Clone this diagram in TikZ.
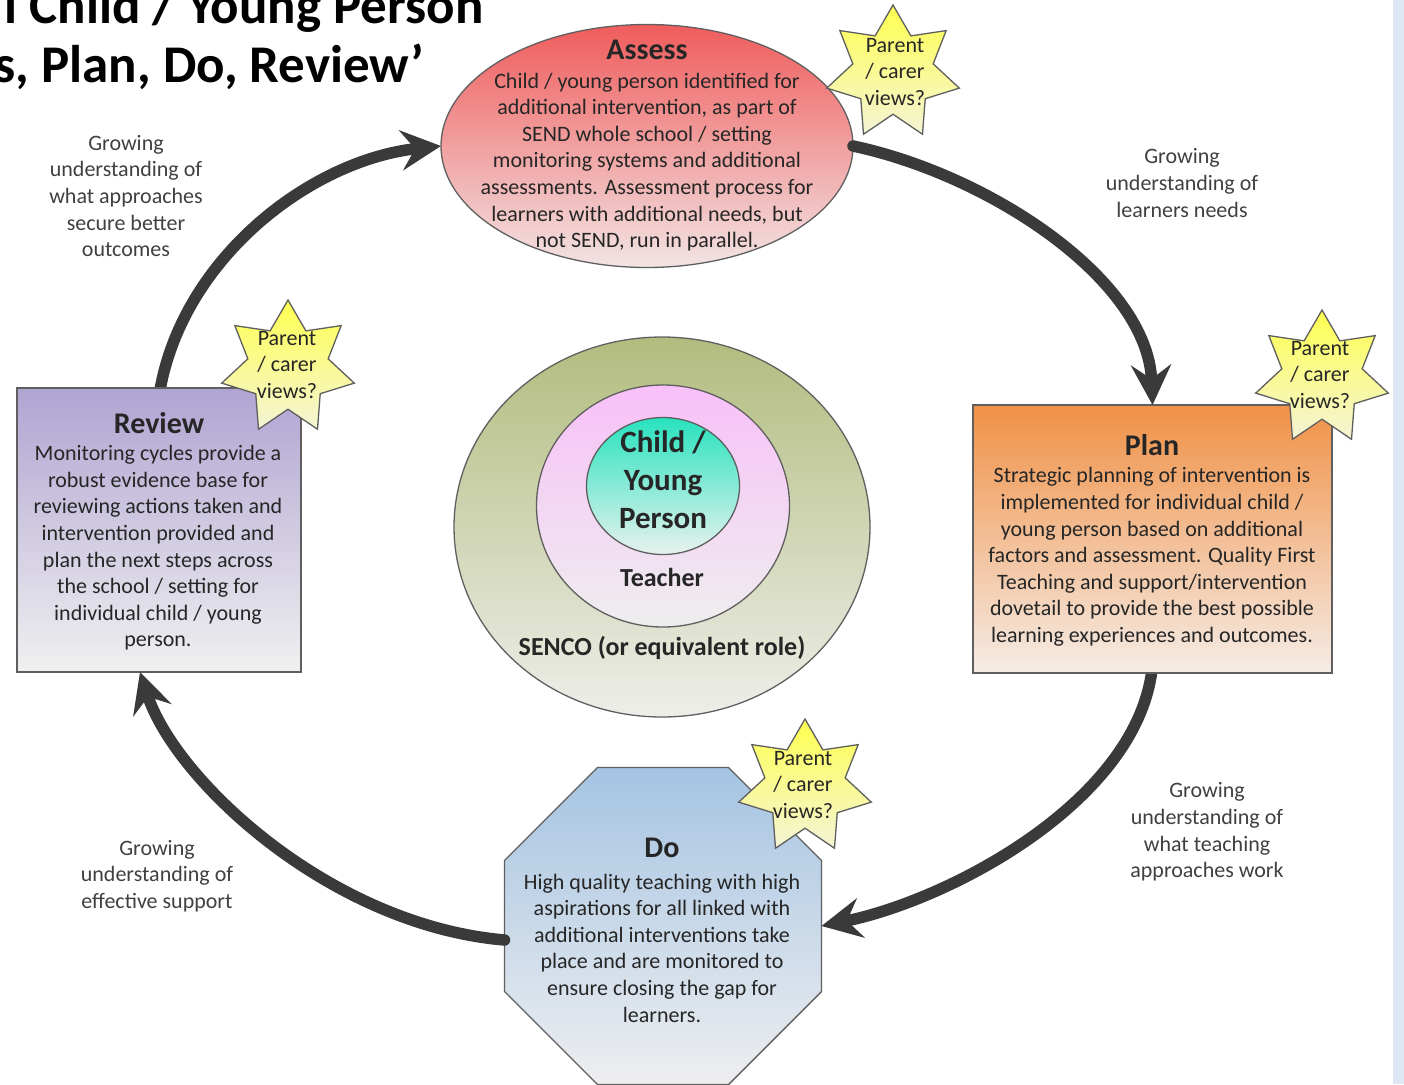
\documentclass[tikz,border=0pt]{standalone}
\usepackage{fontspec}
\setmainfont{Carlito}
\usetikzlibrary{shapes.geometric,arrows.meta,backgrounds}

\definecolor{edgegrey}{RGB}{95,95,95}
\definecolor{arrowgrey}{RGB}{58,58,58}
\definecolor{bodytext}{RGB}{38,38,38}
\definecolor{labeltext}{RGB}{64,64,64}
\definecolor{stripblue}{RGB}{221,232,244}
\definecolor{assessTop}{RGB}{240,92,92}
\definecolor{assessBottom}{RGB}{242,228,228}
\definecolor{planTop}{RGB}{240,145,70}
\definecolor{planBottom}{RGB}{245,236,230}
\definecolor{reviewTop}{RGB}{176,164,210}
\definecolor{reviewBottom}{RGB}{240,240,240}
\definecolor{doTop}{RGB}{165,196,226}
\definecolor{doBottom}{RGB}{238,238,240}
\definecolor{sencoTop}{RGB}{178,188,126}
\definecolor{sencoBottom}{RGB}{238,238,234}
\definecolor{teacherTop}{RGB}{248,192,248}
\definecolor{teacherBottom}{RGB}{238,238,238}
\definecolor{childTop}{RGB}{40,226,190}
\definecolor{childBottom}{RGB}{232,242,238}
\definecolor{starTop}{RGB}{255,255,80}
\definecolor{starBottom}{RGB}{244,244,214}

\tikzset{
  shapeedge/.style={draw=edgegrey, line width=1.3pt, inner sep=0pt, outer sep=0pt},
  parentstar/.style={shapeedge, star, star points=7, star point ratio=1.65,
    minimum size=136pt, top color=starTop, bottom color=starBottom},
  boxtitle/.style={font=\bfseries\fontsize{30}{36}\selectfont, text=bodytext},
  boxbody/.style={align=center, text=bodytext, font=\fontsize{22}{26.6}\selectfont},
  growlabel/.style={align=center, text=labeltext, font=\fontsize{22}{26.6}\selectfont},
  cyclearrow/.style={draw=arrowgrey, line width=11.5pt, line cap=round,
    -{Stealth[length=40pt,width=40pt,inset=14pt]}},
}

\begin{document}
\begin{tikzpicture}[x=1pt,y=-1pt]
\useasboundingbox (0,0) rectangle (1404,1084);
\clip (0,0) rectangle (1404,1084);
\fill[stripblue] (1393,0) rectangle (1404,1084);

% title, cut at the page edge
\node[anchor=base east, font=\bfseries\fontsize{53}{59}\selectfont] (titleA) at (487,23) {l Child / Young Person};
\node[anchor=base east, font=\bfseries\fontsize{53}{59}\selectfont] (titleB) at (428,82) {s, Plan, Do, Review'};

% centre rings
\node[shapeedge, ellipse, minimum width=416pt, minimum height=380pt, top color=sencoTop, bottom color=sencoBottom] (senco) at (662,527) {};
\node[shapeedge, ellipse, minimum width=253pt, minimum height=242pt, top color=teacherTop, bottom color=teacherBottom] (teacher) at (663,506) {};
\node[shapeedge, ellipse, minimum width=153pt, minimum height=137pt, top color=childTop, bottom color=childBottom] (child) at (663,486) {};

% the four stages
\node[shapeedge, ellipse, minimum width=412pt, minimum height=243pt, top color=assessTop, bottom color=assessBottom] (assess) at (647,146) {};
\node[shapeedge, rectangle, minimum width=359pt, minimum height=268pt, top color=planTop, bottom color=planBottom] (plan) at (1152.5,539) {};
\node[shapeedge, regular polygon, regular polygon sides=8, minimum size=343pt, top color=doTop, bottom color=doBottom] (do) at (663,926) {};
\node[shapeedge, rectangle, minimum width=284pt, minimum height=284pt, top color=reviewTop, bottom color=reviewBottom] (review) at (159,530) {};

% cycle
\begin{scope}[on background layer]
\draw[cyclearrow] ([yshift=8pt]plan.south) .. controls (1140,800) and (950,900) .. (do.east);
\draw[cyclearrow] ([yshift=-8pt]review.north) .. controls (180,260) and (310,160) .. (assess.west);
\end{scope}
\draw[cyclearrow] (assess.east) .. controls (990,175) and (1148,280) .. (plan.north);
\draw[cyclearrow] ([yshift=-14pt]do.west) .. controls (330,925) and (175,780) .. ([xshift=-19pt]review.south);

% parent / carer stars
\node[parentstar] (starA) at (893,73) {};
\node[parentstar] (starP) at (1322,378) {};
\node[parentstar] (starD) at (805,787) {};
\node[parentstar] (starR) at (288,368) {};
\node[boxbody] (starAtext) at (895,72) {Parent\\/ carer\\views?};
\node[boxbody] (starPtext) at (1320,375) {Parent\\/ carer\\views?};
\node[boxbody] (starDtext) at (803,785) {Parent\\/ carer\\views?};
\node[boxbody] (starRtext) at (287,365) {Parent\\/ carer\\views?};

% texts
\node[boxtitle] (assessTitle) at (647,50) {Assess};
\node[boxbody] (assessText) at (647,162) {Child / young person identified for\\additional intervention, as part of\\SEND whole school / setting\\monitoring systems and additional\\assessments. Assessment process for\\learners with additional needs, but\\not SEND, run in parallel.};
\node[boxtitle] (planTitle) at (1152,445) {Plan};
\node[boxbody] (planText) at (1152,557) {Strategic planning of intervention is\\implemented for individual child /\\young person based on additional\\factors and assessment. Quality First\\Teaching and support/intervention\\dovetail to provide the best possible\\learning experiences and outcomes.};
\node[boxtitle] (doTitle) at (662,848) {Do};
\node[boxbody] (doText) at (662,948) {High quality teaching with high\\aspirations for all linked with\\additional interventions take\\place and are monitored to\\ensure closing the gap for\\learners.};
\node[boxtitle] (reviewTitle) at (159,423) {Review};
\node[boxbody] (reviewText) at (158,548) {Monitoring cycles provide a\\robust evidence base for\\reviewing actions taken and\\intervention provided and\\plan the next steps across\\the school / setting for\\individual child / young\\person.};

\node[align=center, text=bodytext, font=\bfseries\fontsize{31}{38}\selectfont] (childText) at (663,480) {Child /\\Young\\Person};
\node[text=bodytext, font=\bfseries\fontsize{26}{31}\selectfont] (teacherText) at (662,577) {Teacher};
\node[text=bodytext, font=\bfseries\fontsize{26}{31}\selectfont] (sencoText) at (662,648) {SENCO (or equivalent role)};

\node[growlabel] (growA) at (126,196) {Growing\\understanding of\\what approaches\\secure better\\outcomes};
\node[growlabel] (growB) at (1182,183) {Growing\\understanding of\\learners needs};
\node[growlabel] (growC) at (1207,832) {Growing\\understanding of\\what teaching\\approaches work};
\node[growlabel] (growD) at (157,876) {Growing\\understanding of\\effective support};
\end{tikzpicture}
\end{document}
